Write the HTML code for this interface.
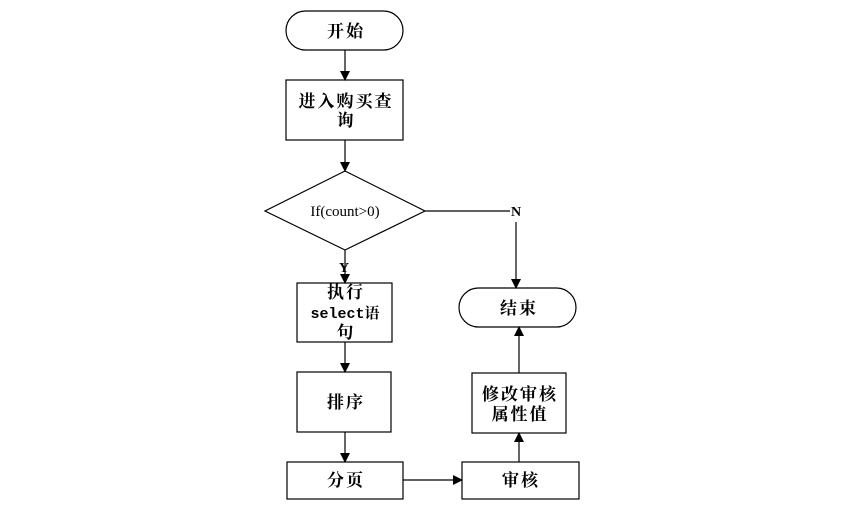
<!DOCTYPE html>
<html><head><meta charset="utf-8"><style>
html,body{margin:0;padding:0;background:#fff;}
svg text{font-family:"Liberation Serif","Noto Serif CJK SC",serif;font-size:17px;font-weight:bold;fill:#000;text-anchor:middle;letter-spacing:2px;}
</style></head><body>
<svg width="848" height="524" xmlns="http://www.w3.org/2000/svg">
<defs><marker id="a" markerWidth="10" markerHeight="10" refX="9" refY="5" orient="auto" markerUnits="userSpaceOnUse"><path d="M0,0 L10,5 L0,10 z" fill="#000"/></marker></defs>
<g fill="#fff" stroke="#000" stroke-width="1.2">
<rect x="286" y="11" width="117" height="39" rx="19.5"/>
<rect x="286" y="80" width="117" height="60"/>
<polygon points="345,171 425,211 345,250 265,211"/>
<rect x="297" y="283" width="95" height="59"/>
<rect x="297" y="372" width="94" height="60"/>
<rect x="287" y="462" width="116" height="37"/>
<rect x="462" y="462" width="117" height="37"/>
<rect x="472" y="373" width="94" height="60"/>
<rect x="459" y="288" width="117" height="39" rx="19.5"/>
</g>
<g stroke="#000" stroke-width="1.2" fill="none">
<line x1="345" y1="50" x2="345" y2="80" marker-end="url(#a)"/>
<line x1="345" y1="140" x2="345" y2="171" marker-end="url(#a)"/>
<line x1="345" y1="250" x2="345" y2="283" marker-end="url(#a)"/>
<line x1="345" y1="342" x2="345" y2="372" marker-end="url(#a)"/>
<line x1="345" y1="432" x2="345" y2="462" marker-end="url(#a)"/>
<line x1="403" y1="480" x2="462" y2="480" marker-end="url(#a)"/>
<line x1="519" y1="462" x2="519" y2="433" marker-end="url(#a)"/>
<line x1="519" y1="373" x2="519" y2="327" marker-end="url(#a)"/>
<line x1="425" y1="211" x2="510" y2="211"/>
<line x1="516" y1="222" x2="516" y2="288" marker-end="url(#a)"/>
</g>
<text x="346" y="37">开始</text>
<text x="346" y="107">进入购买查</text>
<text x="346" y="126">询</text>
<text x="345" y="216" style="font-weight:normal;font-size:15px;letter-spacing:0">If(count&gt;0)</text>
<text x="516" y="216" style="font-size:14px;letter-spacing:0">N</text>
<text x="344" y="272" style="font-size:14px;letter-spacing:0">Y</text>
<text x="346" y="298">执行</text>
<text x="345" y="318" style="font-family:'Liberation Mono','Noto Serif CJK SC',monospace;font-size:15px;letter-spacing:0">select语</text>
<text x="346" y="338">句</text>
<text x="346" y="408">排序</text>
<text x="346" y="486">分页</text>
<text x="521" y="486">审核</text>
<text x="520" y="400">修改审核</text>
<text x="520" y="420">属性值</text>
<text x="519" y="314">结束</text>
</svg>
</body></html>
